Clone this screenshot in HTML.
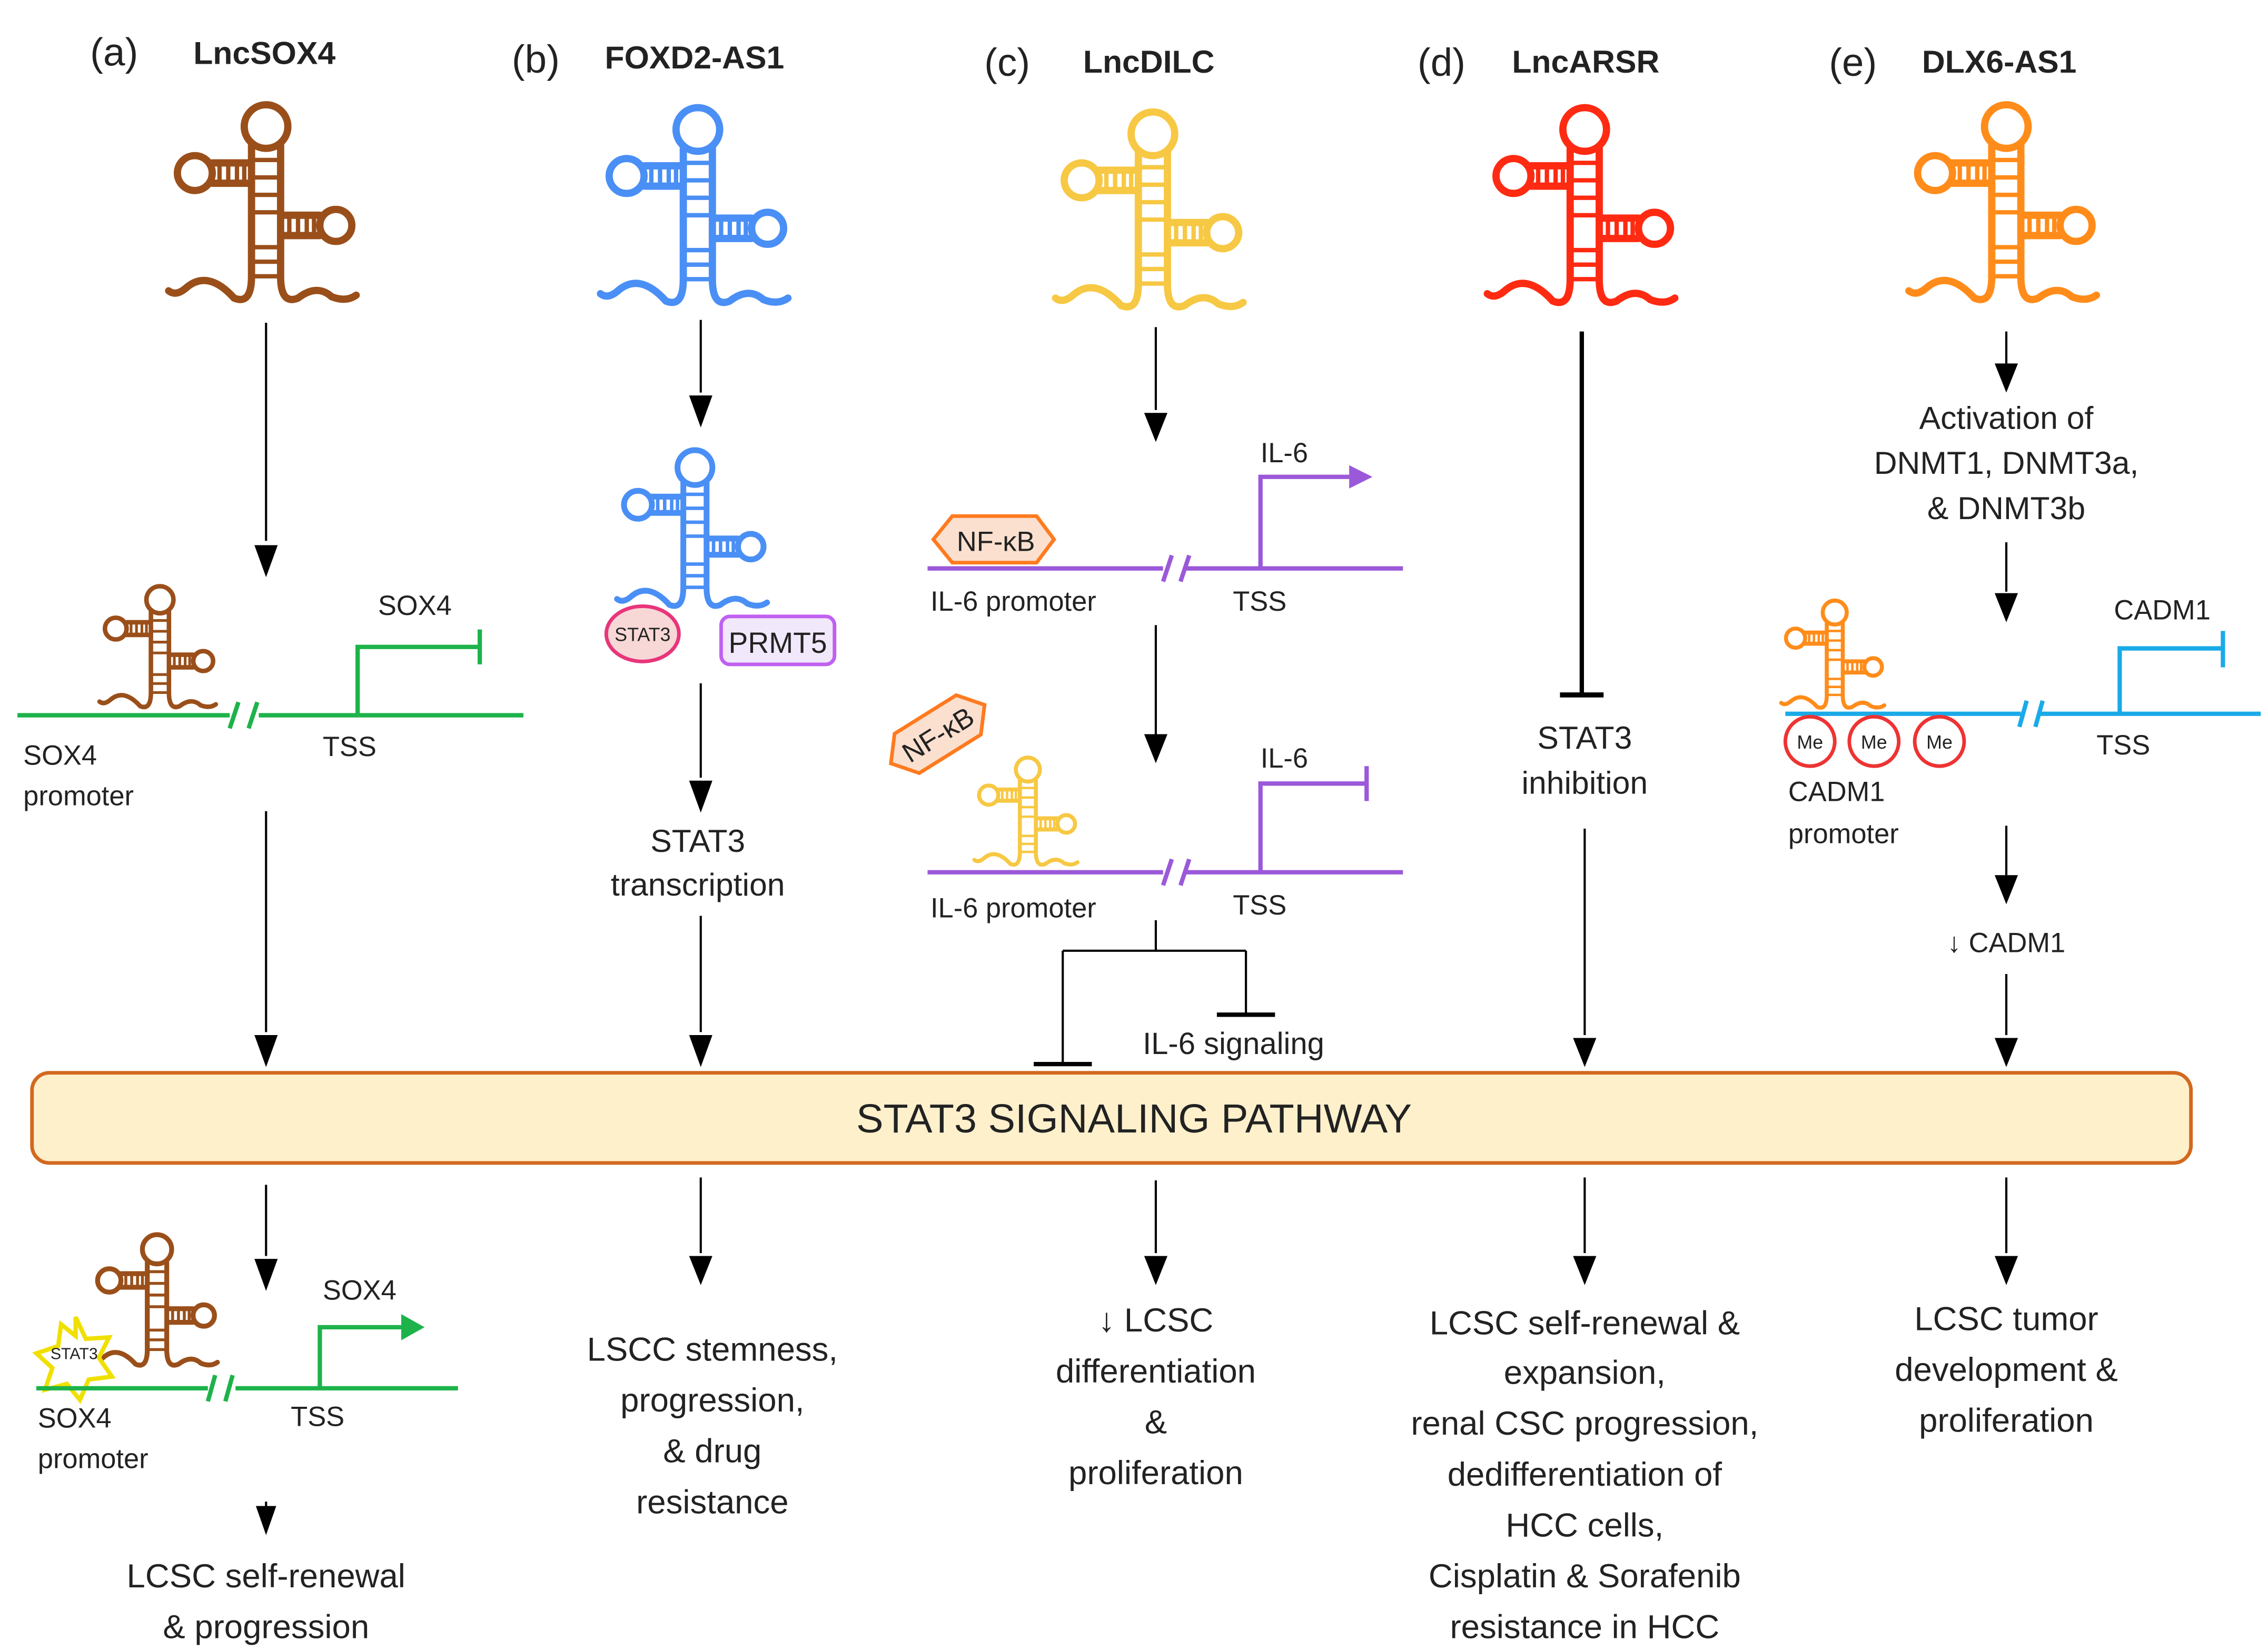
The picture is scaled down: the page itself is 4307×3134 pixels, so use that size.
<!DOCTYPE html>
<html><head><meta charset="utf-8">
<style>
html,body{margin:0;padding:0;background:#fff;}
svg{display:block;}
text{font-family:"Liberation Sans",sans-serif;fill:#222;}
</style></head>
<body>
<svg xmlns="http://www.w3.org/2000/svg" width="4307" height="3134" viewBox="0 0 1560 1135">
<defs>
<g id="rna" fill="none" stroke="currentColor" stroke-width="5" stroke-linecap="round">
  <circle cx="0" cy="17" r="15"/>
  <path d="M-10,30 V120 Q-10,140 -22,135 Q-40,115 -55,128 Q-62,134 -67,130"/>
  <path d="M10,30 V120 Q10,140 22,135 Q35,125 45,134 Q55,138 62,133"/>
  <path d="M-10,42 H-37 M-10,56 H-37"/>
  <circle cx="-49" cy="49" r="12"/>
  <path d="M-32,42V56 M-26,42V56 M-20,42V56 M-15,42V56" stroke-width="3"/>
  <path d="M10,78 H37 M10,92 H37"/>
  <circle cx="48" cy="85" r="11"/>
  <path d="M16,78V92 M22,78V92 M28,78V92 M33,78V92" stroke-width="3"/>
  <path d="M-10,40H10 M-10,52H10 M-10,64H10 M-10,76H10 M-10,100H10 M-10,110H10 M-10,120H10" stroke-width="3"/>
</g>
</defs>

<!-- titles -->
<text x="62" y="45" font-size="27">(a)</text><text x="133" y="44" font-size="22" font-weight="bold">LncSOX4</text>
<text x="352" y="50" font-size="27">(b)</text><text x="416" y="47" font-size="22" font-weight="bold">FOXD2-AS1</text>
<text x="677" y="52" font-size="27">(c)</text><text x="745" y="50" font-size="22" font-weight="bold">LncDILC</text>
<text x="975" y="52" font-size="27">(d)</text><text x="1040" y="50" font-size="22" font-weight="bold">LncARSR</text>
<text x="1258" y="52" font-size="27">(e)</text><text x="1322" y="50" font-size="22" font-weight="bold">DLX6-AS1</text>

<!-- big RNAs -->
<use href="#rna" color="#9a4f1a" transform="translate(183,70)"/>
<use href="#rna" color="#4a8ff5" transform="translate(480,72)"/>
<use href="#rna" color="#f7c843" transform="translate(793,75)"/>
<use href="#rna" color="#ff2a12" transform="translate(1090,72)"/>
<use href="#rna" color="#ff8c1a" transform="translate(1380,70)"/>

<!-- arrows -->
<g stroke="#000" stroke-width="1.5" fill="none">
<line x1="183" y1="222" x2="183" y2="372"/>
<line x1="183" y1="558" x2="183" y2="710"/>
<line x1="183" y1="815" x2="183" y2="864"/>
<line x1="183" y1="1033" x2="183" y2="1036"/>
<line x1="482" y1="220" x2="482" y2="270"/>
<line x1="482" y1="470" x2="482" y2="535"/>
<line x1="482" y1="630" x2="482" y2="710"/>
<line x1="482" y1="810" x2="482" y2="862"/>
<line x1="795" y1="225" x2="795" y2="282"/>
<line x1="795" y1="430" x2="795" y2="505"/>
<line x1="795" y1="812" x2="795" y2="862"/>
<line x1="1090" y1="570" x2="1090" y2="712"/>
<line x1="1090" y1="810" x2="1090" y2="862"/>
<line x1="1380" y1="228" x2="1380" y2="250"/>
<line x1="1380" y1="373" x2="1380" y2="407"/>
<line x1="1380" y1="568" x2="1380" y2="602"/>
<line x1="1380" y1="670" x2="1380" y2="712"/>
<line x1="1380" y1="810" x2="1380" y2="862"/>
</g>
<g fill="#000">
<path d="M175,375h16l-8,22z"/><path d="M175,712h16l-8,22z"/><path d="M175,866h16l-8,22z"/><path d="M176,1036h14l-7,20z"/>
<path d="M474,272h16l-8,22z"/><path d="M474,537h16l-8,22z"/><path d="M474,712h16l-8,22z"/><path d="M474,864h16l-8,20z"/>
<path d="M787,284h16l-8,20z"/><path d="M787,505h16l-8,20z"/><path d="M787,864h16l-8,20z"/>
<path d="M1082,714h16l-8,20z"/><path d="M1082,864h16l-8,20z"/>
<path d="M1372,250h16l-8,20z"/><path d="M1372,408h16l-8,20z"/><path d="M1372,602h16l-8,20z"/><path d="M1372,714h16l-8,20z"/><path d="M1372,864h16l-8,20z"/>
</g>
<!-- d inhibition -->
<line x1="1088" y1="228" x2="1088" y2="478" stroke="#000" stroke-width="3"/>
<line x1="1073" y1="478" x2="1103" y2="478" stroke="#000" stroke-width="3.5"/>

<!-- (a) middle -->
<use href="#rna" color="#9a4f1a" transform="translate(110,402) scale(0.62)"/>
<g stroke="#1db34a" stroke-width="3" fill="none">
<path d="M12,492H158 M178,492H360"/>
<path d="M158,501l6,-18 M171,501l6,-18"/>
<path d="M246,492V445H330 M330,433V457"/>
</g>
<text x="260" y="423" font-size="19">SOX4</text>
<text x="222" y="520" font-size="19">TSS</text>
<text x="16" y="526" font-size="19">SOX4</text><text x="16" y="554" font-size="19">promoter</text>

<!-- (b) middle -->
<use href="#rna" color="#4a8ff5" transform="translate(478,308) scale(0.8)"/>
<ellipse cx="442" cy="436" rx="25" ry="19" fill="#f8d7d7" stroke="#e8357a" stroke-width="2.5"/>
<text x="442" y="441" font-size="13" text-anchor="middle">STAT3</text>
<rect x="496" y="424" width="78" height="33" rx="6" fill="#f1e8fb" stroke="#c060f0" stroke-width="2.5"/>
<text x="535" y="449" font-size="20" text-anchor="middle">PRMT5</text>
<text x="480" y="586" font-size="22" text-anchor="middle">STAT3</text>
<text x="480" y="616" font-size="22" text-anchor="middle">transcription</text>

<!-- (c) -->
<g stroke="#9b59d9" stroke-width="3" fill="none">
<path d="M638,391H800 M815,391H965"/>
<path d="M800,400l6,-18 M812,400l6,-18"/>
<path d="M867,391V328H928"/>
<path d="M638,600H800 M815,600H965"/>
<path d="M800,609l6,-18 M812,609l6,-18"/>
<path d="M867,600V539H940 M940,527V551"/>
</g>
<path d="M928,320L944,328L928,336z" fill="#9b59d9"/>
<path d="M642,371L655,355H713L725,371L713,387H655z" fill="#fbe0cf" stroke="#ff7a1f" stroke-width="2.5"/>
<text x="685" y="379" font-size="19" text-anchor="middle">NF-κB</text>
<g transform="translate(645,505) rotate(-32)">
<path d="M-38,0L-25,-16H25L38,0L25,16H-25z" fill="#fbe0cf" stroke="#ff7a1f" stroke-width="2.5"/>
<text x="0" y="7" font-size="19" text-anchor="middle">NF-κB</text>
</g>
<text x="867" y="318" font-size="19">IL-6</text>
<text x="867" y="528" font-size="19">IL-6</text>
<text x="640" y="420" font-size="19">IL-6 promoter</text>
<text x="848" y="420" font-size="19">TSS</text>
<use href="#rna" color="#f7c843" transform="translate(707,520) scale(0.55)"/>
<text x="640" y="631" font-size="19">IL-6 promoter</text>
<text x="848" y="629" font-size="19">TSS</text>
<g stroke="#000" stroke-width="1.5" fill="none">
<path d="M795,633V654 M731,654H857 M731,654V732 M857,654V698"/>
</g>
<path d="M711,732H751 M837,698H877" stroke="#000" stroke-width="3"/>
<text x="786" y="725" font-size="21">IL-6 signaling</text>

<!-- (d) -->
<text x="1090" y="515" font-size="22" text-anchor="middle">STAT3</text>
<text x="1090" y="546" font-size="22" text-anchor="middle">inhibition</text>

<!-- (e) -->
<text x="1380" y="295" font-size="22" text-anchor="middle">Activation of</text>
<text x="1380" y="326" font-size="22" text-anchor="middle">DNMT1, DNMT3a,</text>
<text x="1380" y="357" font-size="22" text-anchor="middle">&amp; DNMT3b</text>
<use href="#rna" color="#ff8c1a" transform="translate(1262,412) scale(0.55)"/>
<g stroke="#1aaae8" stroke-width="3" fill="none">
<path d="M1228,491H1390 M1402,491H1555"/>
<path d="M1389,500l5,-18 M1400,500l5,-18"/>
<path d="M1458,491V446H1529 M1529,434V459"/>
</g>
<text x="1454" y="426" font-size="19">CADM1</text>
<text x="1442" y="519" font-size="19">TSS</text>
<g fill="#fff" stroke="#ee3333" stroke-width="2.5">
<circle cx="1245" cy="510" r="17"/><circle cx="1289" cy="510" r="17"/><circle cx="1334" cy="510" r="17"/>
</g>
<g font-size="13" text-anchor="middle"><text x="1245" y="515">Me</text><text x="1289" y="515">Me</text><text x="1334" y="515">Me</text></g>
<text x="1230" y="551" font-size="19">CADM1</text>
<text x="1230" y="580" font-size="19">promoter</text>
<text x="1380" y="655" font-size="19" text-anchor="middle">↓ CADM1</text>

<!-- central bar -->
<rect x="22" y="738" width="1485" height="62" rx="12" fill="#fff0cc" stroke="#d2691e" stroke-width="2.5"/>
<text x="780" y="779" font-size="28" text-anchor="middle">STAT3 SIGNALING PATHWAY</text>

<!-- (a) bottom -->
<use href="#rna" color="#9a4f1a" transform="translate(108,848) scale(0.67)"/>
<path d="M52,906 L59,921 L75,920 L68,934 L77,947 L61,949 L55,963 L46,952 L31,956 L36,941 L25,931 L40,926 L42,911 L52,919z" fill="#fff" stroke="#f0e000" stroke-width="3"/>
<text x="51" y="935" font-size="11" text-anchor="middle">STAT3</text>
<g stroke="#1db34a" stroke-width="3" fill="none">
<path d="M25,955H143 M162,955H315"/>
<path d="M143,964l5,-18 M155,964l5,-18"/>
<path d="M220,955V913H276"/>
</g>
<path d="M276,904L292,913L276,922z" fill="#1db34a"/>
<text x="222" y="894" font-size="19">SOX4</text>
<text x="200" y="981" font-size="19">TSS</text>
<text x="26" y="982" font-size="19">SOX4</text><text x="26" y="1010" font-size="19">promoter</text>
<text x="183" y="1092" font-size="23" text-anchor="middle">LCSC self-renewal</text>
<text x="183" y="1127" font-size="23" text-anchor="middle">&amp; progression</text>

<!-- bottom texts -->
<g font-size="23" text-anchor="middle">
<text x="490" y="936">LSCC stemness,</text>
<text x="490" y="971">progression,</text>
<text x="490" y="1006">&amp; drug</text>
<text x="490" y="1041">resistance</text>
<text x="795" y="916">↓ LCSC</text>
<text x="795" y="951">differentiation</text>
<text x="795" y="986">&amp;</text>
<text x="795" y="1021">proliferation</text>
<text x="1090" y="918">LCSC self-renewal &amp;</text>
<text x="1090" y="952">expansion,</text>
<text x="1090" y="987">renal CSC progression,</text>
<text x="1090" y="1022">dedifferentiation of</text>
<text x="1090" y="1057">HCC cells,</text>
<text x="1090" y="1092">Cisplatin &amp; Sorafenib</text>
<text x="1090" y="1127">resistance in HCC</text>
<text x="1380" y="915">LCSC tumor</text>
<text x="1380" y="950">development &amp;</text>
<text x="1380" y="985">proliferation</text>
</g>
</svg>
</body></html>
